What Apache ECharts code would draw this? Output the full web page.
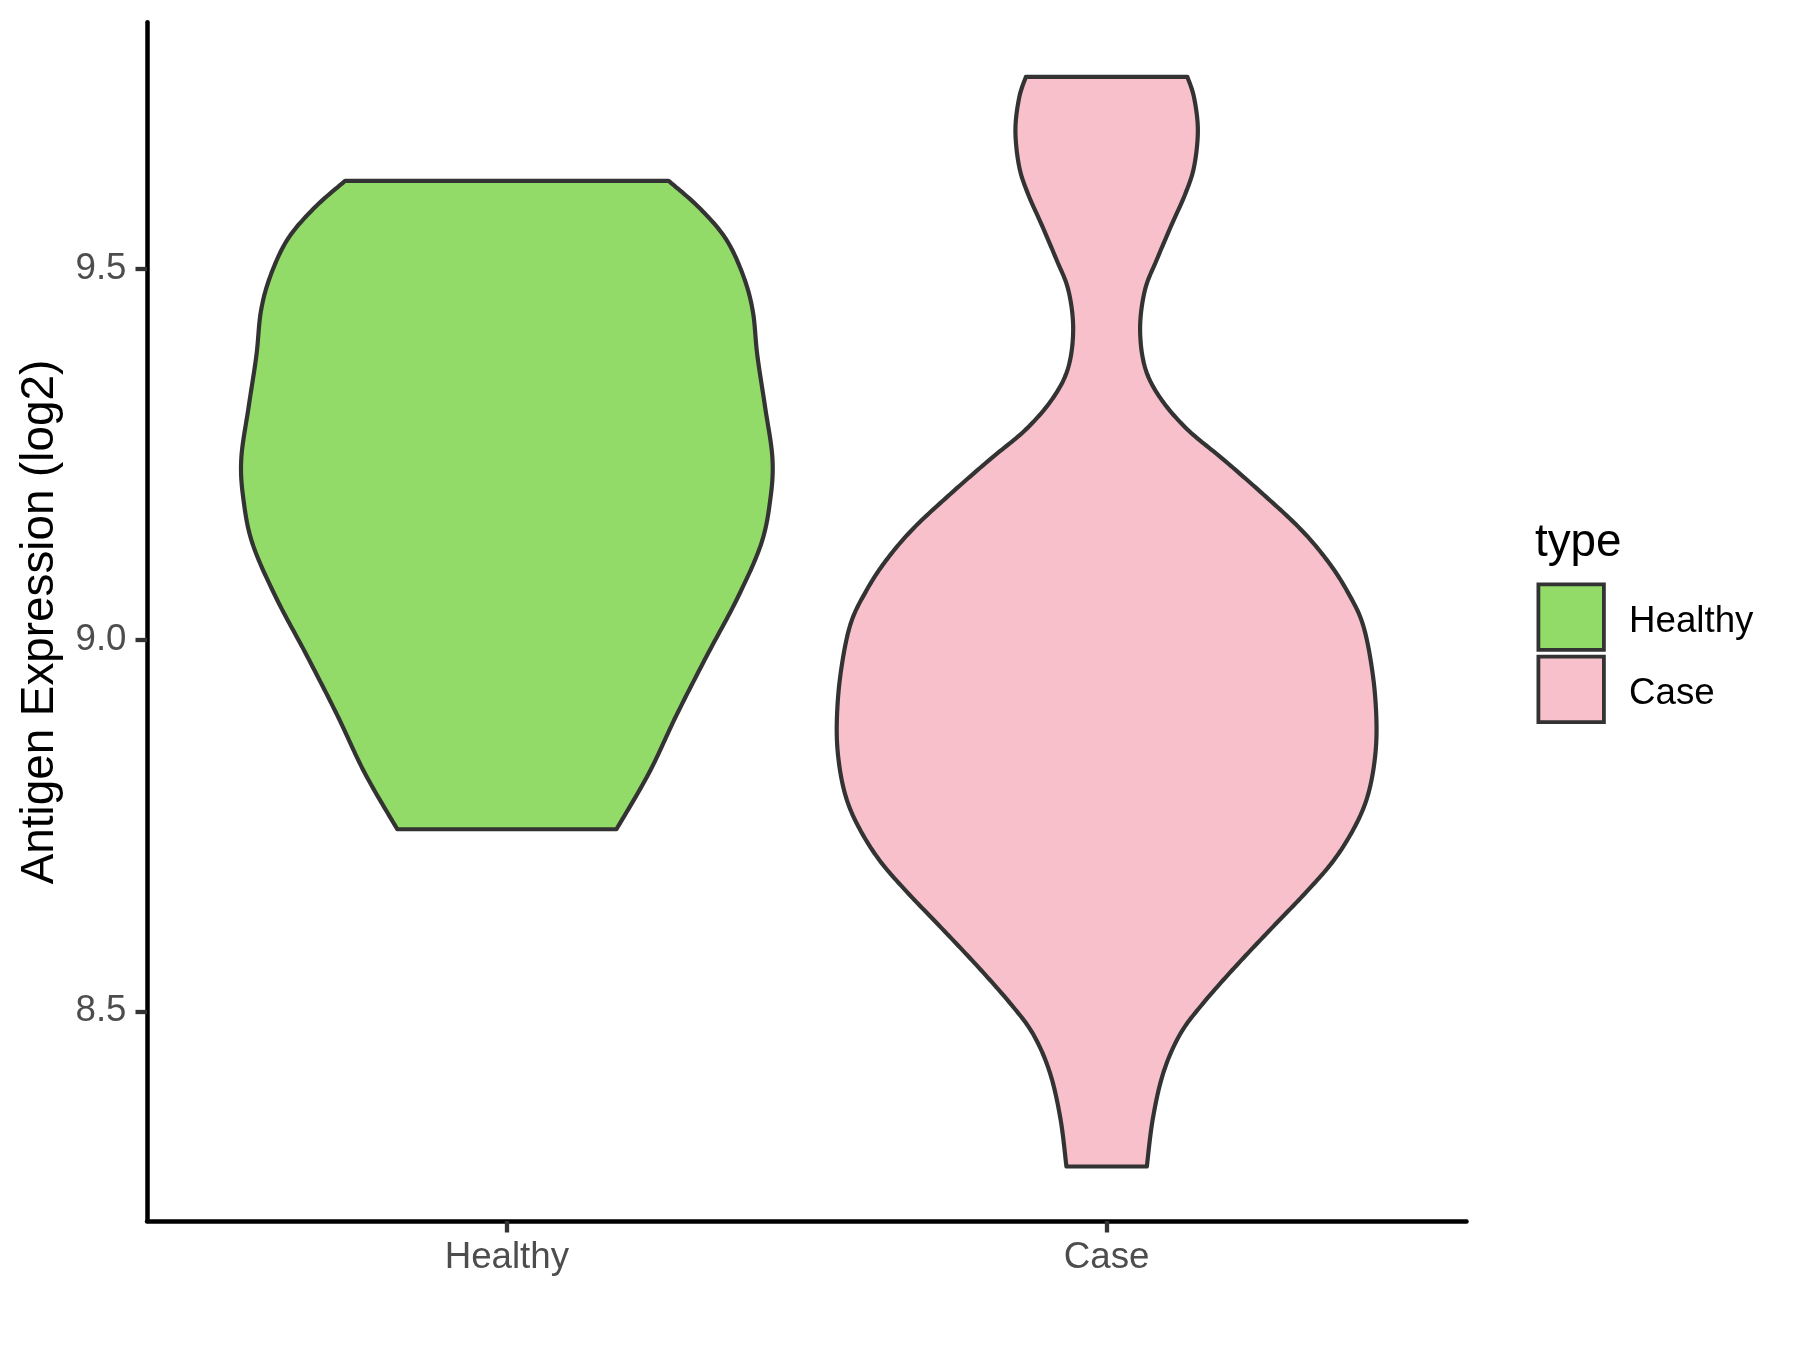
<!DOCTYPE html>
<html>
<head>
<meta charset="utf-8">
<script src="https://cdn.jsdelivr.net/npm/echarts@6/dist/echarts.min.js"></script>
<style>
html,body{margin:0;padding:0;background:#ffffff;}
#chart{width:1800px;height:1350px;}
</style>
</head>
<body>
<div id="chart"></div>
<script>
// ---- data ----
const categories = ['Healthy', 'Case'];
const yTickValues = [8.5, 9.0, 9.5];
const legendTitle = 'type';
const yAxisTitle = 'Antigen Expression (log2)';

// violin outlines: expression value (top -> bottom) and relative density (half-width)
const healthyValues  = [9.618, 9.582, 9.540, 9.491, 9.443, 9.383, 9.313, 9.244, 9.189, 9.129, 9.056, 8.978, 8.899, 8.821, 8.745];
const healthyDensity = [0.599, 0.712, 0.811, 0.875, 0.911, 0.928, 0.957, 0.984, 0.976, 0.942, 0.854, 0.740, 0.629, 0.527, 0.406];

const caseValues  = [9.758, 9.730, 9.686, 9.637, 9.600, 9.559, 9.512, 9.471, 9.419, 9.367, 9.326, 9.284, 9.243, 9.196, 9.150, 9.108, 9.067, 9.020, 8.951, 8.884, 8.832, 8.785, 8.744, 8.702, 8.661, 8.614, 8.562, 8.511, 8.469, 8.417, 8.355, 8.291];
const caseDensity = [0.299, 0.324, 0.338, 0.324, 0.291, 0.241, 0.186, 0.142, 0.124, 0.142, 0.198, 0.297, 0.432, 0.580, 0.716, 0.815, 0.889, 0.950, 0.987, 1.000, 0.991, 0.963, 0.913, 0.839, 0.741, 0.617, 0.482, 0.358, 0.272, 0.210, 0.171, 0.149];

// ---- styling ----
const FONT = '"Liberation Sans", Arial, Helvetica, sans-serif';
const fillColors = ['#93DB69', '#F7C0CB'];
const outline = '#333333';
const violinHalfWidth = 0.45;

const groups = [
  { values: healthyValues, density: healthyDensity },
  { values: caseValues, density: caseDensity }
];
const allVals = healthyValues.concat(caseValues);
const dMin = Math.min.apply(null, allVals), dMax = Math.max.apply(null, allVals);
const pad = (dMax - dMin) * 0.05;

function catmull(pts, steps) {
  const out = [];
  const n = pts.length;
  for (let i = 0; i < n - 1; i++) {
    const p0 = pts[Math.max(i - 1, 0)], p1 = pts[i], p2 = pts[i + 1], p3 = pts[Math.min(i + 2, n - 1)];
    for (let s = 0; s < steps; s++) {
      const t = s / steps, t2 = t * t, t3 = t2 * t;
      const f = k => 0.5 * ((2 * p1[k]) + (-p0[k] + p2[k]) * t + (2 * p0[k] - 5 * p1[k] + 4 * p2[k] - p3[k]) * t2 + (-p0[k] + 3 * p1[k] - 3 * p2[k] + p3[k]) * t3);
      out.push([f(0), f(1)]);
    }
  }
  out.push(pts[n - 1]);
  return out;
}

function renderViolin(params, api) {
  const g = groups[params.seriesIndex];
  const center = api.value(0);
  const right = g.values.map((v, i) => api.coord([center + violinHalfWidth * g.density[i], v]));
  const left = g.values.map((v, i) => api.coord([center - violinHalfWidth * g.density[i], v])).reverse();
  const pts = catmull(right, 16).concat(catmull(left, 16));
  return {
    type: 'polygon',
    shape: { points: pts },
    style: { fill: fillColors[params.seriesIndex], stroke: outline, lineWidth: 4.2, lineJoin: 'round' }
  };
}

// legend labels (text drawn as graphic so it can sit exactly beside each key)
const legendLabelY = [622, 694];
const legendLabels = categories.map((name, i) => ({
  type: 'text', x: 1629, y: legendLabelY[i],
  style: { text: name, fontSize: 36.7, fontFamily: FONT, fill: '#000000', align: 'left', verticalAlign: 'middle' }
}));

const chart = echarts.init(document.getElementById('chart'), null, { renderer: 'canvas' });
const option = {
  animation: false,
  backgroundColor: '#ffffff',
  grid: { left: 147, right: 333.5, top: 22.3, bottom: 129, containLabel: false, outerBoundsMode: 'none' },
  xAxis: {
    type: 'value',
    min: 0.4, max: 2.6,
    splitLine: { show: false },
    axisLine: { show: true, lineStyle: { color: '#000000', width: 4.5 } },
    axisTick: { show: true, customValues: categories.map((c, i) => i + 1), length: 11.5, lineStyle: { color: '#333333', width: 4.3 } },
    axisLabel: {
      show: true,
      customValues: categories.map((c, i) => i + 1),
      formatter: v => categories[Math.round(v) - 1],
      margin: 18.5, fontSize: 36.7, color: '#4D4D4D', fontFamily: FONT
    }
  },
  yAxis: {
    type: 'value',
    min: dMin - pad, max: dMax + pad,
    splitLine: { show: false },
    axisLine: { show: true, lineStyle: { color: '#000000', width: 4.5 } },
    axisTick: { show: true, customValues: yTickValues, length: 11.5, lineStyle: { color: '#333333', width: 4.3 } },
    axisLabel: {
      show: true,
      customValues: yTickValues,
      formatter: v => v.toFixed(1),
      margin: 20.5, fontSize: 36.7, color: '#4D4D4D', fontFamily: FONT
    }
  },
  legend: {
    show: true,
    orient: 'vertical',
    left: 1536.5, top: 582.5,
    padding: 0,
    itemWidth: 65.5, itemHeight: 65.5, itemGap: 3,
    icon: 'rect',
    selectedMode: false,
    itemStyle: { borderColor: outline, borderWidth: 3.8 },
    formatter: () => '',
    textStyle: { fontSize: 36.7, color: '#000000', fontFamily: FONT },
    data: categories
  },
  graphic: [
    { type: 'text', x: 1535, y: 543, style: { text: legendTitle, fontSize: 45.8, fontFamily: FONT, fill: '#000000', align: 'left', verticalAlign: 'middle' } },
    { type: 'text', x: 40.5, y: 622, rotation: Math.PI / 2, style: { text: yAxisTitle, fontSize: 45.8, fontFamily: FONT, fill: '#000000', align: 'center', verticalAlign: 'middle' } }
  ].concat(legendLabels),
  series: categories.map((name, i) => ({
    type: 'custom',
    name: name,
    renderItem: renderViolin,
    itemStyle: { color: fillColors[i], borderColor: outline, borderWidth: 3.8 },
    data: [[i + 1, (dMin + dMax) / 2]],
    clip: false,
    z: 2
  }))
};
chart.setOption(option);
</script>
</body>
</html>
